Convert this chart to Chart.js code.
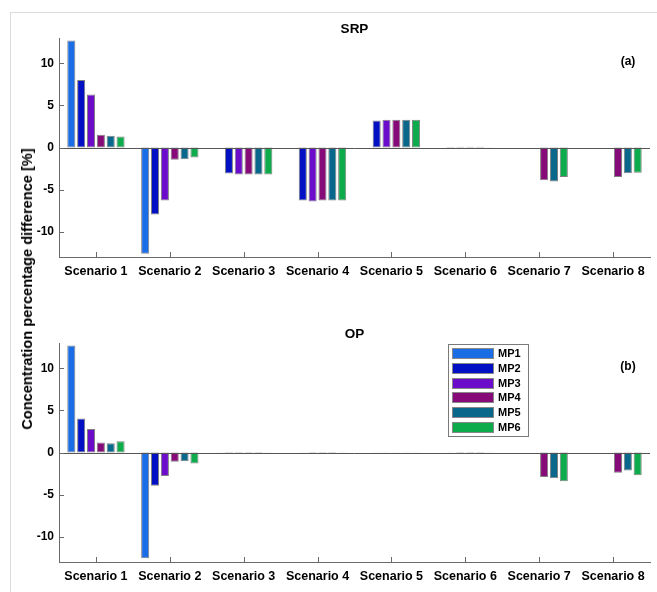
<!DOCTYPE html>
<html><head><meta charset="utf-8">
<script src="https://cdn.jsdelivr.net/npm/chart.js@4.4.1/dist/chart.umd.min.js"></script>
<style>
html,body{margin:0;padding:0;background:#fff;}
body{width:657px;height:592px;position:relative;overflow:hidden;font-family:"Liberation Sans",Arial,sans-serif;}
#frame{position:absolute;left:10px;top:12px;width:700px;height:700px;border:1px solid #dcdcdc;}
.wrap{position:absolute;left:0;width:657px;height:296px;}
#w1{top:0}
#w2{top:296px}
#ylab{position:absolute;left:27px;top:289px;transform:translate(-50%,-50%) rotate(-90deg);white-space:nowrap;font-weight:bold;font-size:14.6px;color:#000;}
</style></head>
<body>
<div id="frame"></div>
<div class="wrap" id="w1"><canvas id="c1" width="657" height="296"></canvas></div>
<div class="wrap" id="w2"><canvas id="c2" width="657" height="296"></canvas></div>
<div id="ylab">Concentration percentage difference [%]</div>
<script>
const categories = ['Scenario 1','Scenario 2','Scenario 3','Scenario 4','Scenario 5','Scenario 6','Scenario 7','Scenario 8'];
const seriesNames = ['MP1','MP2','MP3','MP4','MP5','MP6'];
const yTicks = [-10,-5,0,5,10];

// (a) SRP
const srpMP1 = [12.7, -12.6, 0, 0, 0, 0, 0, 0];
const srpMP2 = [8.0, -7.95, -3.1, -6.3, 3.2, 0.05, 0, 0];
const srpMP3 = [6.3, -6.3, -3.2, -6.4, 3.3, 0.08, 0, 0];
const srpMP4 = [1.5, -1.45, -3.2, -6.3, 3.3, 0.1, -3.9, -3.5];
const srpMP5 = [1.4, -1.4, -3.2, -6.3, 3.3, 0.08, -4.05, -3.05];
const srpMP6 = [1.3, -1.2, -3.2, -6.3, 3.3, 0.03, -3.5, -3.0];

// (b) OP
const opMP1 = [12.7, -12.55, 0.02, 0, 0, 0, 0, 0];
const opMP2 = [4.05, -3.95, 0.05, 0.03, 0.02, 0.02, 0, 0];
const opMP3 = [2.8, -2.8, 0.05, 0.05, 0.03, 0.05, 0, 0];
const opMP4 = [1.2, -1.1, 0.05, 0.05, 0.03, 0.05, -2.9, -2.4];
const opMP5 = [1.1, -1.05, 0.05, 0.05, 0.03, 0.05, -3.05, -2.15];
const opMP6 = [1.35, -1.3, 0.03, 0.02, 0.02, 0.03, -3.4, -2.7];

const seriesColors = ['#1b6de6','#0010c2','#6a0cc9','#860a78','#08678a','#0eab4c'];

const FONT = '"Liberation Sans", Arial, sans-serif';

const deco = {
  id:'deco',
  afterDatasetsDraw(chart, args, opts){
    const {ctx, chartArea:a, scales:{x,y}} = chart;
    ctx.save();
    const y0 = Math.round(y.getPixelForValue(0)) + 0.5;
    ctx.strokeStyle = '#555'; ctx.lineWidth = 1;
    ctx.beginPath(); ctx.moveTo(a.left, y0); ctx.lineTo(a.right, y0); ctx.stroke();
    ctx.strokeStyle = '#6a6a6a';
    ctx.beginPath();
    x.ticks.forEach((t,i)=>{const px = Math.round(x.getPixelForTick(i)) + 0.5; ctx.moveTo(px, a.bottom); ctx.lineTo(px, a.bottom - 5);});
    y.ticks.forEach((t,i)=>{const py = Math.round(y.getPixelForTick(i)) + 0.5; ctx.moveTo(a.left, py); ctx.lineTo(a.left + 5, py);});
    ctx.stroke();
    ctx.fillStyle = '#000';
    ctx.textAlign = 'center'; ctx.textBaseline = 'middle';
    ctx.font = 'bold 13.5px ' + FONT;
    ctx.fillText(opts.title, (a.left + a.right)/2, a.top - 9);
    ctx.font = 'bold 12px ' + FONT;
    ctx.fillText(opts.tag, a.right - 22, a.top + 24);
    if (opts.legend) {
      const bx = a.left + 389, by = a.top + 1, bw = 80, bh = 92;
      ctx.fillStyle = '#fff';
      ctx.fillRect(bx, by, bw, bh);
      ctx.strokeStyle = '#7a7a7a';
      ctx.strokeRect(bx + 0.5, by + 0.5, bw, bh);
      ctx.font = 'bold 11px ' + FONT;
      ctx.textAlign = 'left';
      chart.data.datasets.forEach((ds, i) => {
        const cy = by + 9.5 + i * 14.75;
        ctx.fillStyle = ds.backgroundColor;
        ctx.fillRect(bx + 4, Math.round(cy - 5.5), 42, 11);
        ctx.strokeStyle = '#888';
        ctx.strokeRect(bx + 4.5, Math.round(cy - 5.5) + 0.5, 41, 10);
        ctx.fillStyle = '#000';
        ctx.fillText(ds.label, bx + 50, cy + 0.5);
      });
    }
    ctx.restore();
  }
};

function makeChart(id, series, title, tag, legend, padTop, xHeight){
  const datasets = series.map((vals, i) => ({
    label: seriesNames[i],
    data: vals,
    backgroundColor: seriesColors[i],
    borderColor: '#808080',
    borderWidth: 1,
    borderSkipped: false,
    categoryPercentage: 0.8,
    barPercentage: 0.82
  }));
  return new Chart(document.getElementById(id), {
    type: 'bar',
    data: { labels: categories, datasets },
    plugins: [deco],
    options: {
      responsive: false,
      devicePixelRatio: 1,
      animation: false,
      layout: { padding: { left: 0, right: 7, top: padTop, bottom: 0 } },
      plugins: {
        legend: { display: false },
        tooltip: { enabled: false },
        deco: { title, tag, legend }
      },
      scales: {
        x: {
          type: 'category',
          offset: true,
          grid: { display: false, drawTicks: false, tickLength: 0 },
          border: { display: true, color: '#6a6a6a', width: 1 },
          ticks: { color: '#000', font: { family: FONT, size: 12.5, weight: 'bold' }, padding: 7, maxRotation: 0, autoSkip: false },
          afterFit(s){ s.height = xHeight; }
        },
        y: {
          min: -13, max: 13,
          grid: { display: false, drawTicks: false, tickLength: 0 },
          border: { display: true, color: '#6a6a6a', width: 1 },
          afterBuildTicks(s){ s.ticks = yTicks.map(v => ({ value: v })); },
          ticks: { color: '#000', font: { family: FONT, size: 12, weight: 'bold' }, padding: 5, includeBounds: false, stepSize: 5 },
          afterFit(s){ s.width = 59; }
        }
      }
    }
  });
}

makeChart('c1', [srpMP1, srpMP2, srpMP3, srpMP4, srpMP5, srpMP6], 'SRP', '(a)', false, 38, 39);
makeChart('c2', [opMP1, opMP2, opMP3, opMP4, opMP5, opMP6], 'OP', '(b)', true, 47, 30);
</script>
</body></html>
